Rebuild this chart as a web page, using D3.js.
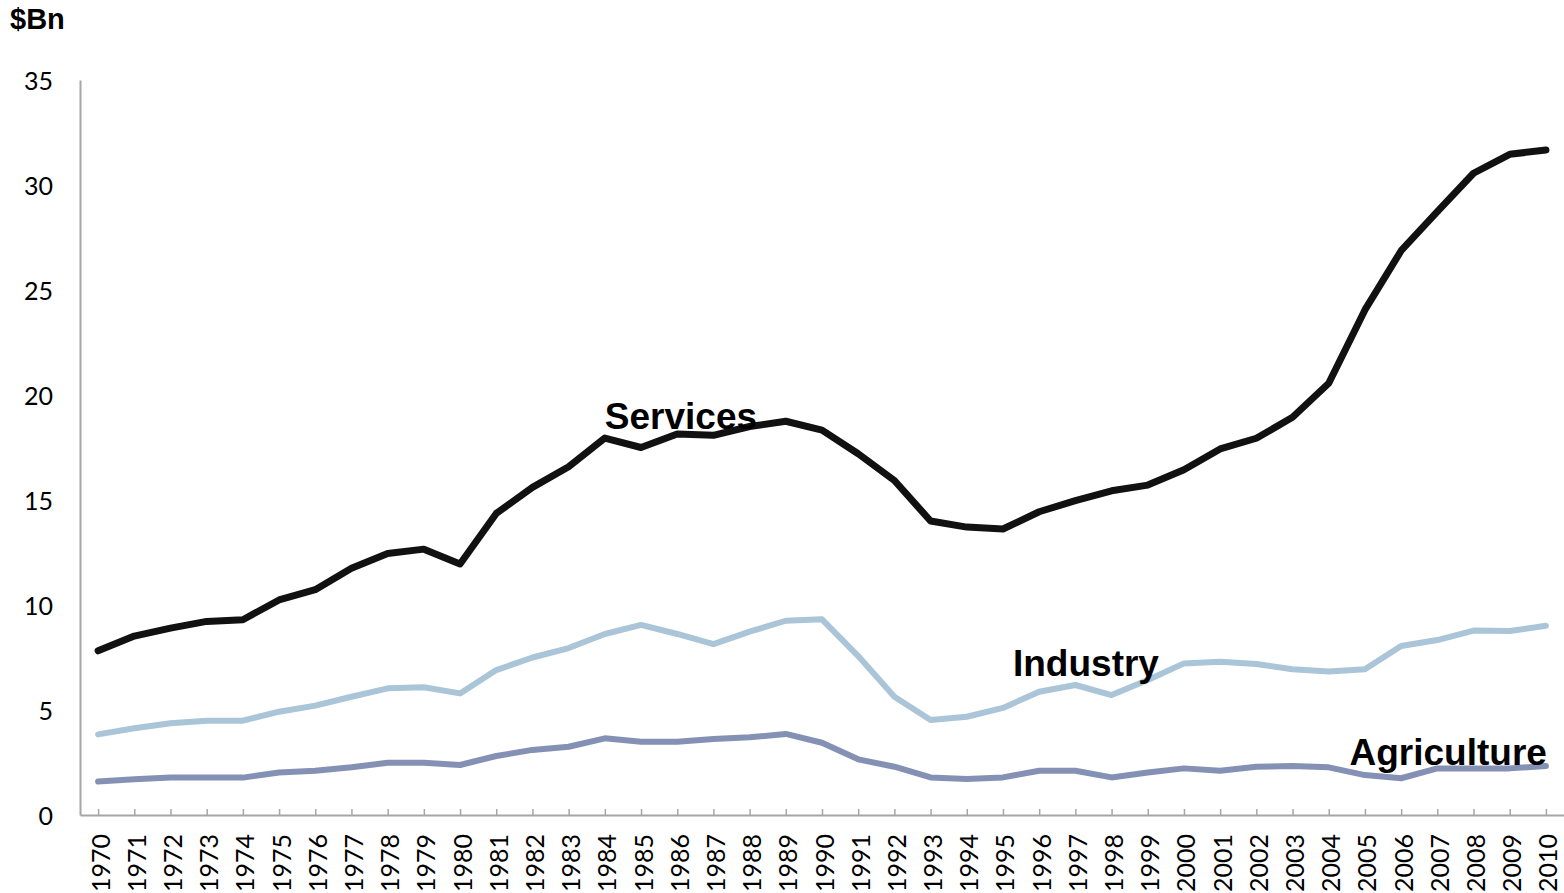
<!DOCTYPE html>
<html>
<head>
<meta charset="utf-8">
<script src="https://cdn.jsdelivr.net/npm/d3@7"></script>
<style>
  html, body { margin: 0; padding: 0; background: #fff; }
  svg { display: block; }
  .tick text { font-family: Lato, "Open Sans", sans-serif; fill: #000; }
</style>
</head>
<body>
<svg id="chart" width="1564" height="893"></svg>
<script>
// Output by sector, $Bn, 1970–2010
const years = d3.range(1970, 2011).map(String);

const services = [
  7.82, 8.52, 8.9, 9.22, 9.3, 10.24, 10.73, 11.75, 12.45, 12.66,
  11.95, 14.36, 15.6, 16.58, 17.95, 17.5, 18.14, 18.08, 18.5, 18.75,
  18.33, 17.2, 15.93, 14.0, 13.71, 13.62, 14.44, 14.97, 15.44, 15.71,
  16.44, 17.43, 17.94, 18.94, 20.56, 24.05, 26.87, 28.73, 30.56, 31.46,
  31.67
];

const industry = [
  3.84, 4.13, 4.37, 4.49, 4.49, 4.92, 5.21, 5.63, 6.03, 6.08,
  5.79, 6.9, 7.5, 7.95, 8.62, 9.05, 8.62, 8.14, 8.73, 9.25,
  9.32, 7.57, 5.63, 4.52, 4.68, 5.1, 5.87, 6.19, 5.71, 6.43,
  7.22, 7.3, 7.19, 6.94, 6.83, 6.94, 8.05, 8.33, 8.78, 8.76,
  9.01
];

const agriculture = [
  1.59, 1.7, 1.78, 1.78, 1.78, 2.02, 2.11, 2.27, 2.49, 2.49,
  2.38, 2.81, 3.1, 3.25, 3.65, 3.49, 3.49, 3.62, 3.7, 3.86,
  3.44, 2.65, 2.3, 1.79, 1.71, 1.79, 2.11, 2.11, 1.79, 2.02,
  2.22, 2.11, 2.3, 2.33, 2.27, 1.9, 1.75, 2.22, 2.22, 2.22,
  2.33
];

const yTicks = [0, 5, 10, 15, 20, 25, 30, 35];

const seriesList = [
  { name: "Agriculture", values: agriculture, color: "#8590b5", width: 6 },
  { name: "Industry",    values: industry,    color: "#aac4d8", width: 6 },
  { name: "Services",    values: services,    color: "#111111", width: 7 }
];

// Series names placed beside their lines (baseline at the given value)
const seriesLabels = [
  { text: "Services",    year: "1984", value: 18.4, anchor: "start", dx: 0 },
  { text: "Industry",    year: "1995", value: 6.62, anchor: "start", dx: 10 },
  { text: "Agriculture", year: "2010", value: 2.38, anchor: "end",   dx: 1 }
];

const svg = d3.select("#chart");
const plot = { left: 80, right: 1564, top: 80, bottom: 815 };

const x = d3.scalePoint()
  .domain(years)
  .range([plot.left, plot.right])
  .padding(0.5);

const y = d3.scaleLinear()
  .domain([0, 35])
  .range([plot.bottom, plot.top]);

const axisColor = "#a6a6a6";

// Y axis: plain line with numeric labels
const yAxis = svg.append("g")
  .attr("transform", `translate(${plot.left},0)`)
  .call(d3.axisLeft(y).tickValues(yTicks).tickSize(0).tickPadding(27).tickFormat(d3.format("d")));
yAxis.select(".domain").attr("stroke", axisColor).attr("stroke-width", 2);
yAxis.selectAll("text").attr("font-size", 25).attr("dy", "0.36em");

// X axis: inward ticks, vertical year labels
const xAxis = svg.append("g")
  .attr("transform", `translate(0,${plot.bottom})`)
  .call(d3.axisBottom(x).tickSizeInner(-6).tickSizeOuter(0));
xAxis.select(".domain").attr("stroke", axisColor).attr("stroke-width", 2);
xAxis.selectAll(".tick line").attr("stroke", axisColor).attr("stroke-width", 1.5);
xAxis.selectAll(".tick text")
  .attr("font-size", 25)
  .attr("text-anchor", "end")
  .attr("transform", "rotate(-90)")
  .attr("x", -19)
  .attr("y", 2)
  .attr("dy", "0.36em");

// Lines
const line = d3.line()
  .x((d, i) => x(years[i]))
  .y(d => y(d));

svg.append("g")
  .selectAll("path")
  .data(seriesList)
  .join("path")
  .attr("d", s => line(s.values))
  .attr("fill", "none")
  .attr("stroke", s => s.color)
  .attr("stroke-width", s => s.width)
  .attr("stroke-linejoin", "round")
  .attr("stroke-linecap", "round");

// Series names drawn over the lines
svg.append("g")
  .selectAll("text")
  .data(seriesLabels)
  .join("text")
  .attr("x", d => x(d.year) + d.dx)
  .attr("y", d => y(d.value))
  .attr("text-anchor", d => d.anchor)
  .attr("font-family", "'Liberation Sans', Arial, sans-serif")
  .attr("font-weight", "bold")
  .attr("font-size", 37)
  .attr("fill", "#000")
  .text(d => d.text);

// Unit label
svg.append("text")
  .attr("x", 10)
  .attr("y", 29)
  .attr("font-family", "'Liberation Sans', Arial, sans-serif")
  .attr("font-weight", "bold")
  .attr("font-size", 29)
  .attr("fill", "#000")
  .text("$Bn");
</script>
</body>
</html>
